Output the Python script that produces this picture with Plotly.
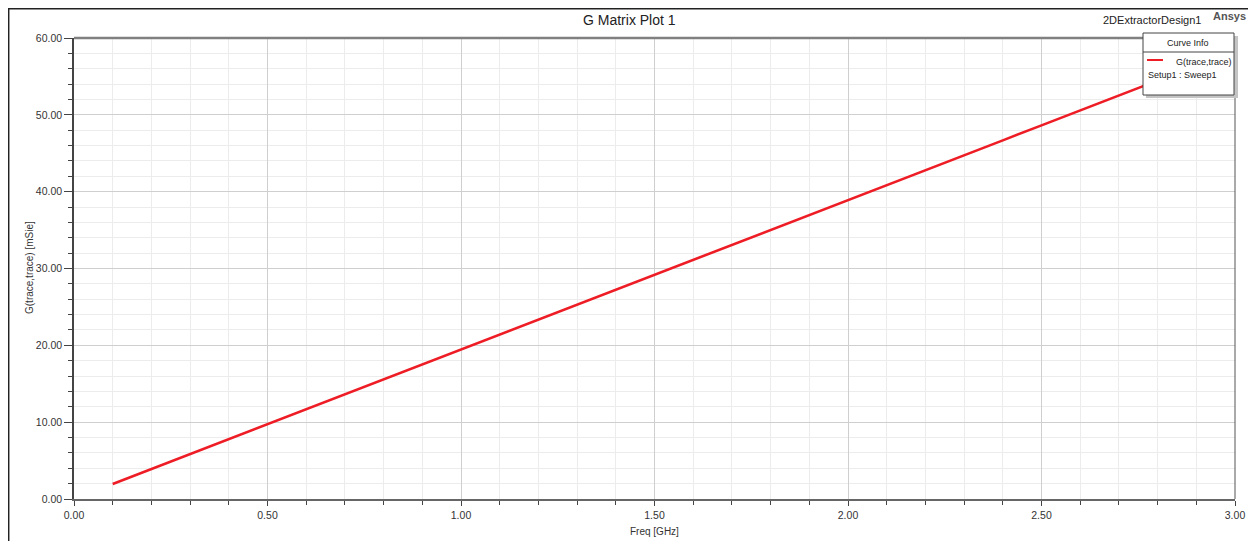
import plotly.graph_objects as go

# frequency sweep [GHz] and G(trace,trace) [mSie]
freq = [0.1, 0.2, 0.3, 0.4, 0.5, 0.6, 0.7, 0.8, 0.9, 1.0,
        1.1, 1.2, 1.3, 1.4, 1.5, 1.6, 1.7, 1.8, 1.9, 2.0,
        2.1, 2.2, 2.3, 2.4, 2.5, 2.6, 2.7, 2.8, 2.9, 3.0]
g_trace = [1.95, 3.89, 5.84, 7.78, 9.73, 11.67, 13.62, 15.56, 17.51, 19.45,
           21.40, 23.34, 25.29, 27.23, 29.18, 31.12, 33.07, 35.01, 36.96, 38.90,
           40.85, 42.79, 44.74, 46.68, 48.63, 50.57, 52.52, 54.46, 56.41, 58.35]

x_ticks = [0.0, 0.5, 1.0, 1.5, 2.0, 2.5, 3.0]
y_ticks = [0, 10, 20, 30, 40, 50, 60]

# page has an 8px body margin, so the figure is shrunk by that much
OFF = 8
W, H = 1256 - OFF, 541 - OFF
L, R, T, B = 74, 1235, 38, 499   # plot box in page pixels

def px(x):
    return (x - L) / (R - L)

def py(y):
    return (B - y) / (B - T)

font = "Liberation Sans, Arial, sans-serif"

fig = go.Figure()
fig.add_trace(go.Scatter(x=freq, y=g_trace, mode="lines",
                         line=dict(color="#ee1c25", width=2.6),
                         name="G(trace,trace)", showlegend=False))

fig.update_layout(
    width=W, height=H,
    margin=dict(l=L - OFF, r=W - (R - OFF), t=T - OFF, b=H - (B - OFF)),
    paper_bgcolor="white", plot_bgcolor="white",
    font=dict(family=font, size=10.5, color="#333333"),
)

fig.update_xaxes(
    range=[0, 3], tickvals=x_ticks, tickformat=".2f", automargin=False,
    showgrid=True, gridcolor="#cfcfcf", gridwidth=1,
    minor=dict(dtick=0.1, showgrid=True, gridcolor="#ececec",
               ticks="outside", ticklen=4, tickcolor="#444"),
    ticks="outside", ticklen=5, tickcolor="#444",
    showline=True, linecolor="#666666", linewidth=2,
    zeroline=False,
)
fig.update_yaxes(
    range=[0, 60], tickvals=y_ticks, tickformat=".2f", automargin=False,
    showgrid=True, gridcolor="#cfcfcf", gridwidth=1,
    minor=dict(dtick=2, showgrid=True, gridcolor="#ececec",
               ticks="outside", ticklen=4, tickcolor="#444"),
    ticks="outside", ticklen=8, tickcolor="#444",
    showline=True, linecolor="#444444", linewidth=1.5,
    zeroline=False,
)

shapes = [
    # outer frame
    dict(type="rect", xref="paper", yref="paper",
         x0=px(8.7), x1=px(1252), y0=py(560), y1=py(8.7),
         line=dict(color="#222222", width=1.5), fillcolor="rgba(0,0,0,0)", layer="above"),
    # top plot border
    dict(type="line", xref="paper", yref="paper",
         x0=0, x1=1, y0=1, y1=1, line=dict(color="#808080", width=2.5), layer="above"),
    # right plot border
    dict(type="line", xref="paper", yref="paper",
         x0=1, x1=1, y0=0, y1=1, line=dict(color="#555555", width=1), layer="above"),
    # legend shadow
    dict(type="rect", xref="paper", yref="paper",
         x0=px(1146), x1=px(1238), y0=py(98), y1=py(36),
         line=dict(width=0), fillcolor="#c4c4c4", layer="above"),
    # legend box
    dict(type="rect", xref="paper", yref="paper",
         x0=px(1143), x1=px(1234), y0=py(95), y1=py(33),
         line=dict(color="#444444", width=1), fillcolor="white", layer="above"),
    # legend separator
    dict(type="line", xref="paper", yref="paper",
         x0=px(1143), x1=px(1234), y0=py(52), y1=py(52),
         line=dict(color="#444444", width=1), layer="above"),
    # legend sample line
    dict(type="line", xref="paper", yref="paper",
         x0=px(1147), x1=px(1163), y0=py(60), y1=py(60),
         line=dict(color="#ee1c25", width=2), layer="above"),
]
fig.update_layout(shapes=shapes)

ann = [
    dict(text="G Matrix Plot 1", x=px(629), y=py(20), font=dict(size=14, color="#222")),
    dict(text="2DExtractorDesign1", x=px(1152), y=py(20), font=dict(size=11, color="#222")),
    dict(text="<b>Ansys</b>", x=px(1229), y=py(16), font=dict(size=11, color="#555")),
    dict(text="Curve Info", x=px(1188), y=py(43), font=dict(size=9, color="#222")),
    dict(text="G(trace,trace)", x=px(1204), y=py(62), font=dict(size=9, color="#222")),
    dict(text="Setup1 : Sweep1", x=px(1146), y=py(75), xanchor="left", font=dict(size=9, color="#222")),
    dict(text="Freq [GHz]", x=px(654), y=py(531), font=dict(size=10, color="#333")),
    dict(text="G(trace,trace) [mSie]", x=px(29), y=py(268), textangle=-90,
         font=dict(size=10, color="#333")),
]
for a in ann:
    a.setdefault("xanchor", "center")
    fig.add_annotation(xref="paper", yref="paper", showarrow=False, yanchor="middle",
                       **{k: v for k, v in a.items() if k != "font"},
                       font=dict(family=font, **a["font"]))

fig.write_html("out.html")
